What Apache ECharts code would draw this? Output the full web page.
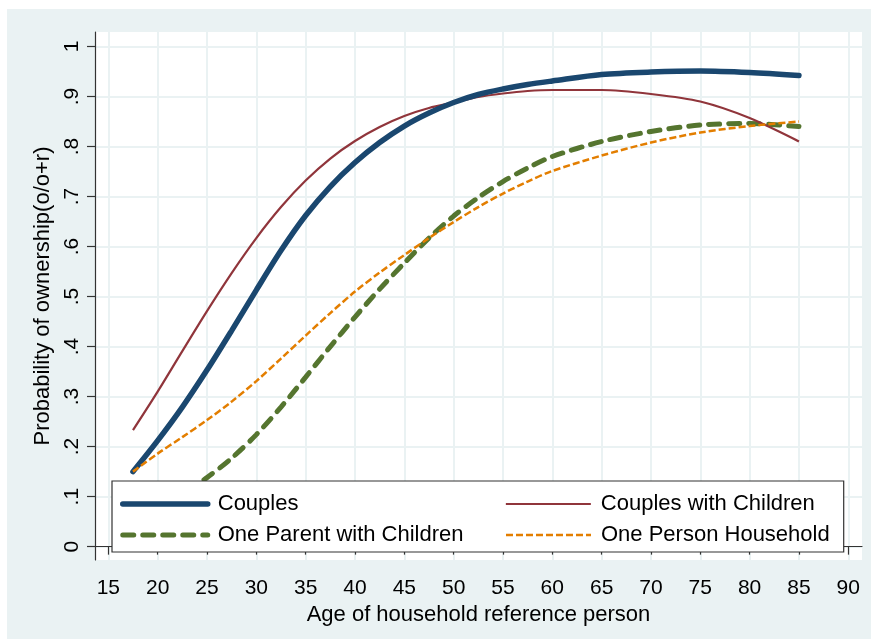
<!DOCTYPE html>
<html>
<head>
<meta charset="utf-8">
<script src="https://cdn.jsdelivr.net/npm/echarts@6/dist/echarts.min.js"></script>
<style>
html,body{margin:0;padding:0;background:#fff;}
#bg{position:absolute;left:7px;top:9px;width:864px;height:630px;background:#eaf2f3;}
#chart{position:absolute;left:0;top:0;width:871px;height:639px;}
</style>
</head>
<body>
<div id="bg"></div>
<div id="chart"></div>
<script>
// ---- data ----
const ages = [17.5, 20, 22.5, 25, 27.5, 30, 32.5, 35, 37.5, 40, 42.5, 45, 47.5, 50, 52.5, 55, 57.5, 60, 65, 70, 75, 80, 85];
const couples = [0.15, 0.212, 0.279, 0.353, 0.432, 0.513, 0.592, 0.662, 0.72, 0.768, 0.808, 0.841, 0.867, 0.888, 0.904, 0.915, 0.924, 0.931, 0.944, 0.949, 0.951, 0.948, 0.942];
const couplesChildren = [0.233, 0.31, 0.391, 0.471, 0.547, 0.617, 0.679, 0.732, 0.776, 0.811, 0.839, 0.861, 0.877, 0.888, 0.899, 0.906, 0.911, 0.913, 0.913, 0.905, 0.89, 0.857, 0.81];
const oneParent = [0.06, 0.08, 0.106, 0.138, 0.177, 0.224, 0.279, 0.339, 0.40, 0.459, 0.515, 0.567, 0.617, 0.661, 0.698, 0.73, 0.757, 0.78, 0.81, 0.83, 0.843, 0.846, 0.84];
const onePerson = [0.15, 0.186, 0.219, 0.253, 0.29, 0.331, 0.376, 0.422, 0.467, 0.51, 0.548, 0.583, 0.617, 0.649, 0.679, 0.706, 0.73, 0.751, 0.782, 0.808, 0.828, 0.841, 0.85];
const seriesNames = ['Couples', 'Couples with Children', 'One Parent with Children', 'One Person Household'];
const xTicks = [15, 20, 25, 30, 35, 40, 45, 50, 55, 60, 65, 70, 75, 80, 85, 90];
const yTicks = [0, 0.1, 0.2, 0.3, 0.4, 0.5, 0.6, 0.7, 0.8, 0.9, 1];
const yTickLabels = ['0', '.1', '.2', '.3', '.4', '.5', '.6', '.7', '.8', '.9', '1'];
const xTitle = 'Age of household reference person';
const yTitle = 'Probability of ownership(o/o+r)';

const pairs = vals => ages.map((a, i) => [a, vals[i]]);
const FONT = '"Liberation Sans", Arial, sans-serif';
const gridCol = '#eaf2f3';
const styles = [
  {color: '#1a476f', width: 5.5, type: 'solid', cap: 'round'},
  {color: '#90353b', width: 2.2, type: 'solid', cap: 'butt'},
  {color: '#55752f', width: 5, type: [11, 9], cap: 'round'},
  {color: '#e37e00', width: 2.5, type: [7, 3], cap: 'butt'}
];

const chart = echarts.init(document.getElementById('chart'), null, {renderer: 'canvas'});
const leftText = {width: 282, padding: [0, 0, 0, 5], fontSize: 22};
const rightText = {padding: [0, 0, 0, 5], fontSize: 22};
const lineStyleOf = i => ({color: styles[i].color, width: styles[i].width, type: styles[i].type, cap: styles[i].cap});
chart.setOption({
  backgroundColor: 'transparent',
  animation: false,
  textStyle: {fontFamily: FONT},
  grid: {left: 95, right: 9, top: 32, bottom: 79, show: true, backgroundColor: '#fff', borderWidth: 0},
  xAxis: {
    type: 'value', min: 13.65, max: 91.39,
    axisLine: {show: true, lineStyle: {color: '#333', width: 1.2}},
    axisTick: {show: true, length: 8, lineStyle: {color: '#333', width: 1.2}, customValues: xTicks},
    axisLabel: {customValues: xTicks, fontSize: 21, color: '#000', margin: 18, fontFamily: FONT},
    splitLine: {show: true, lineStyle: {color: gridCol, width: 2}},
    name: xTitle, nameLocation: 'middle', nameGap: 38,
    nameTextStyle: {fontSize: 22, color: '#000', fontFamily: FONT}
  },
  yAxis: {
    type: 'value', min: -0.0267, max: 1.029,
    axisLine: {show: true, lineStyle: {color: '#333', width: 1.2}},
    axisTick: {show: true, length: 8, lineStyle: {color: '#333', width: 1.2}, customValues: yTicks},
    axisLabel: {customValues: yTicks, rotate: 90, fontSize: 21, color: '#000', margin: 12, fontFamily: FONT,
      formatter: v => { const i = yTicks.findIndex(t => Math.abs(t - v) < 1e-6); return i >= 0 ? yTickLabels[i] : ''; }},
    splitLine: {show: true, lineStyle: {color: gridCol, width: 2}},
    name: yTitle, nameLocation: 'middle', nameRotate: 90, nameGap: 39,
    nameTextStyle: {fontSize: 22, color: '#000', fontFamily: FONT}
  },
  legend: {
    left: 112, top: 481, width: 715,
    orient: 'horizontal',
    padding: [10, 14, 4, 8],
    itemGap: 5, itemWidth: 85, itemHeight: 14,
    itemStyle: {opacity: 0},
    backgroundColor: '#fff', borderColor: '#333', borderWidth: 1.2, borderRadius: 0,
    textStyle: {fontSize: 22, color: '#000', lineHeight: 26, fontFamily: FONT},
    data: [
      {name: seriesNames[0], textStyle: leftText, lineStyle: lineStyleOf(0)},
      {name: seriesNames[1], textStyle: rightText, lineStyle: lineStyleOf(1)},
      {name: seriesNames[2], textStyle: leftText, lineStyle: lineStyleOf(2)},
      {name: seriesNames[3], textStyle: rightText, lineStyle: lineStyleOf(3)}
    ]
  },
  series: [couples, couplesChildren, oneParent, onePerson].map((vals, i) => ({
    name: seriesNames[i], type: 'line', data: pairs(vals), smooth: 0.3, symbol: 'none',
    lineStyle: lineStyleOf(i), itemStyle: {color: styles[i].color}, z: [5, 4, 3, 6][i]
  }))
});
</script>
</body>
</html>
